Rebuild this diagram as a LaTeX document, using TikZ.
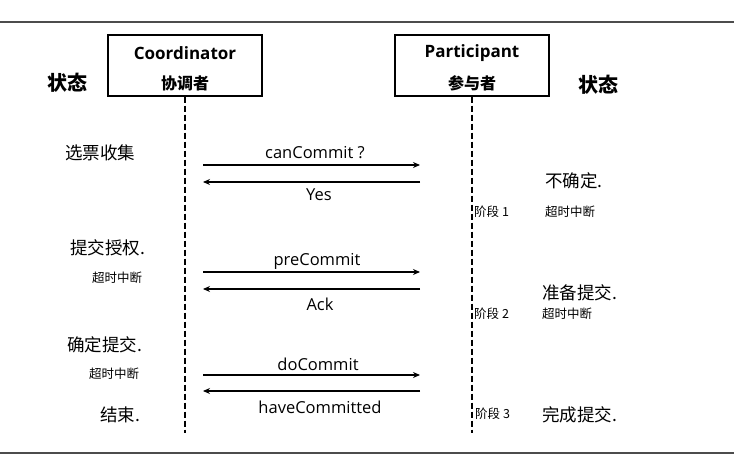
\documentclass[tikz,border=0pt]{standalone}
\usepackage{fontspec}
\setmainfont{Open Sans}
\newfontfamily\cjk{Noto Sans CJK SC}
\usetikzlibrary{arrows.meta}
\begin{document}
\begin{tikzpicture}[x=1pt,y=-1pt,
  actor/.style={draw,line width=1.1pt,minimum width=154pt,minimum height=61pt,inner sep=0pt},
  life/.style={line width=1.1pt,dash pattern=on 6pt off 3pt},
  msg/.style={line width=1.4pt,-{Stealth[length=7pt,width=6pt]}},
  lbl/.style={font=\fontsize{16.5}{18}\selectfont,inner sep=0pt},
  en/.style={font=\bfseries\fontsize{17}{18}\selectfont,inner sep=0pt},
  zh/.style={font=\cjk\bfseries\fontsize{16}{17}\selectfont,inner sep=0pt},
  st/.style={font=\cjk\fontsize{17.5}{18}\selectfont,inner sep=0pt,anchor=west},
  sm/.style={font=\cjk\fontsize{12.5}{13}\selectfont,inner sep=0pt,anchor=west},
  hd/.style={font=\cjk\bfseries\fontsize{20}{21}\selectfont,inner sep=0pt}]
\useasboundingbox (0,0) rectangle (734,473);
\fill[white] (0,0) rectangle (734,473);
\draw[line width=1.3pt,gray!60!black] (0,22) -- (734,22);
\draw[line width=1.5pt,gray!60!black] (0,453) -- (734,453);
% actors
\node[actor] (co) at (185,65.5) {};
\node[en] (coT) at (185,53) {Coordinator};
\node[zh] (coZ) at (185,83) {协调者};
\node[actor] (pa) at (472,65.5) {};
\node[en] (paT) at (472,53) {Participant};
\node[zh] (paZ) at (472,83) {参与者};
\coordinate (coE) at (185,433);
\coordinate (paE) at (472,433);
\draw[life] (co.south) -- (coE);
\draw[life] (pa.south) -- (paE);
% headers
\node[hd] (sl) at (67,83) {状态};
\node[hd] (sr) at (598,85) {状态};
% left states
\node[st] (l1) at (65,153) {选票收集};
\node[st] (l2) at (70,248) {提交授权.};
\node[sm] (l2t) at (92,278) {超时中断};
\node[st] (l3) at (67,345) {确定提交.};
\node[sm] (l3t) at (89,374) {超时中断};
\node[st] (l4) at (100,415) {结束.};
% right states
\node[st] (r1) at (545,181) {不确定.};
\node[sm] (r1t) at (545,212) {超时中断};
\node[sm] (p1) at (474,212) {阶段 1};
\node[st] (r2) at (542,293) {准备提交.};
\node[sm] (r2t) at (542,314) {超时中断};
\node[sm] (p2) at (474,314) {阶段 2};
\node[st] (r3) at (542,415) {完成提交.};
\node[sm] (p3) at (475,414) {阶段 3};
% messages
\coordinate (a1) at (203,165); \coordinate (b1) at (420,165);
\coordinate (a2) at (203,182); \coordinate (b2) at (420,182);
\coordinate (a3) at (203,272); \coordinate (b3) at (420,272);
\coordinate (a4) at (203,289); \coordinate (b4) at (420,289);
\coordinate (a5) at (203,375); \coordinate (b5) at (420,375);
\coordinate (a6) at (203,391); \coordinate (b6) at (420,391);
\draw[msg] (a1) -- (b1);
\draw[msg] (b2) -- (a2);
\draw[msg] (a3) -- (b3);
\draw[msg] (b4) -- (a4);
\draw[msg] (a5) -- (b5);
\draw[msg] (b6) -- (a6);
\node[lbl] (m1) at (315,153) {canCommit ?};
\node[lbl] (m2) at (319,195) {Yes};
\node[lbl] (m3) at (317,261) {preCommit};
\node[lbl] (m4) at (320,304) {Ack};
\node[lbl] (m5) at (318,364) {doCommit};
\node[lbl] (m6) at (320,407) {haveCommitted};
\end{tikzpicture}
\end{document}
